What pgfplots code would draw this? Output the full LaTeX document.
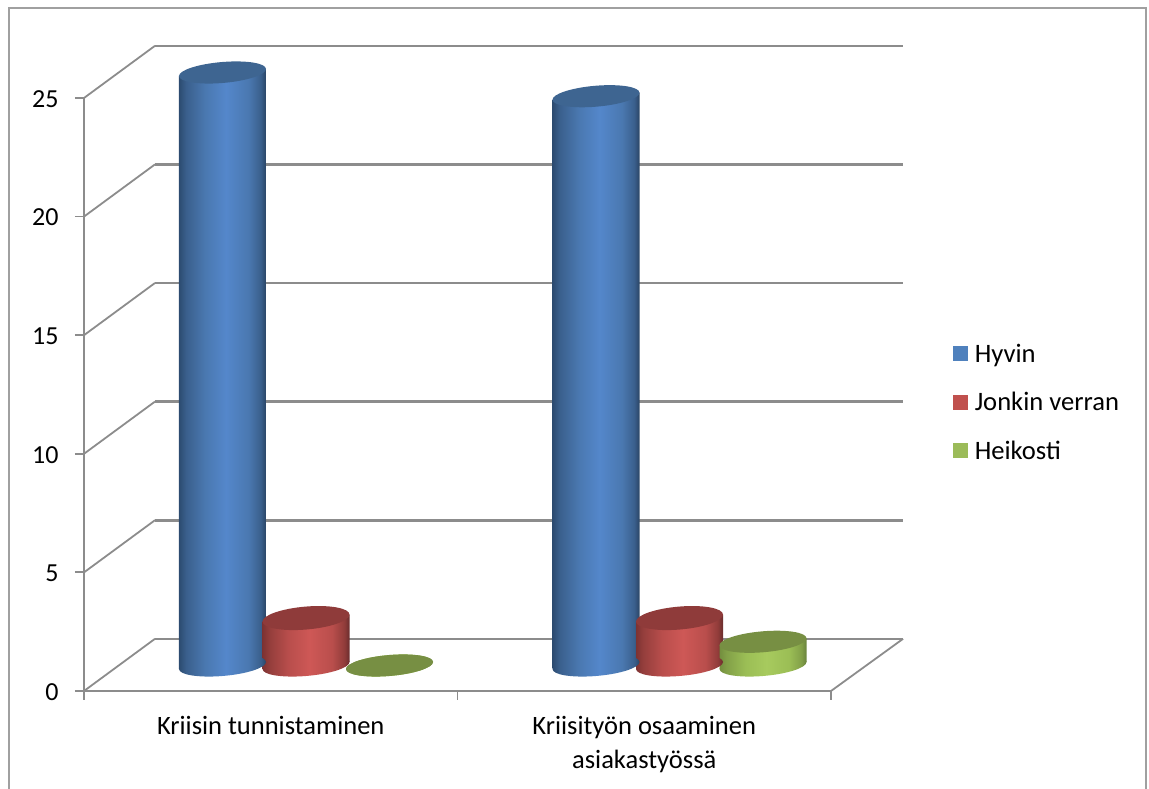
\documentclass[border=0pt]{standalone}
\usepackage{fontspec}
\usepackage{pgfplots}
\usepackage{pgfplotstable}
\pgfplotsset{compat=1.18}
\setmainfont{Carlito}

\definecolor{axisgray}{HTML}{8C8C8C}
\definecolor{framegray}{HTML}{A0A0A0}
\definecolor{hyvin}{HTML}{4F81BD}
\definecolor{jonkin}{HTML}{C0504D}
\definecolor{heikosti}{HTML}{9BBB59}
\definecolor{hyvintop}{HTML}{3E6591}
\definecolor{jonkintop}{HTML}{8F3B3A}
\definecolor{heikostitop}{HTML}{778F43}

% side shading of the cylinders, the bar width runs over 25bp..75bp
\pgfdeclarehorizontalshading{hyvinside}{100bp}{
  color(0bp)=(rgb,255:red,44;green,75;blue,112);
  color(25bp)=(rgb,255:red,44;green,75;blue,112);
  color(29bp)=(rgb,255:red,58;green,95;blue,140);
  color(40bp)=(rgb,255:red,74;green,120;blue,176);
  color(52bp)=(rgb,255:red,84;green,135;blue,203);
  color(65bp)=(rgb,255:red,74;green,120;blue,176);
  color(72bp)=(rgb,255:red,58;green,95;blue,140);
  color(75bp)=(rgb,255:red,42;green,69;blue,101);
  color(100bp)=(rgb,255:red,42;green,69;blue,101)}
\pgfdeclarehorizontalshading{jonkinside}{100bp}{
  color(0bp)=(rgb,255:red,125;green,50;blue,50);
  color(25bp)=(rgb,255:red,125;green,50;blue,50);
  color(29bp)=(rgb,255:red,148;green,62;blue,60);
  color(40bp)=(rgb,255:red,185;green,78;blue,76);
  color(52bp)=(rgb,255:red,206;green,88;blue,86);
  color(65bp)=(rgb,255:red,185;green,78;blue,76);
  color(72bp)=(rgb,255:red,145;green,60;blue,58);
  color(75bp)=(rgb,255:red,105;green,45;blue,45);
  color(100bp)=(rgb,255:red,105;green,45;blue,45)}
\pgfdeclarehorizontalshading{heikostiside}{100bp}{
  color(0bp)=(rgb,255:red,115;green,142;blue,62);
  color(25bp)=(rgb,255:red,115;green,142;blue,62);
  color(29bp)=(rgb,255:red,130;green,160;blue,72);
  color(40bp)=(rgb,255:red,155;green,190;blue,85);
  color(52bp)=(rgb,255:red,167;green,202;blue,94);
  color(65bp)=(rgb,255:red,155;green,190;blue,85);
  color(72bp)=(rgb,255:red,130;green,160;blue,72);
  color(75bp)=(rgb,255:red,105;green,130;blue,60);
  color(100bp)=(rgb,255:red,105;green,130;blue,60)}

% slanted ellipses for the cylinder ends
\pgfdeclareplotmark{captop}{%
  \pgfpathellipse{\pgfpointorigin}{\pgfpoint{43.5pt}{3.5pt}}{\pgfpoint{0pt}{10.5pt}}%
  \pgfusepathqfill}
\pgfdeclareplotmark{captopbig}{%
  \pgfpathellipse{\pgfpointorigin}{\pgfpoint{43.5pt}{3.5pt}}{\pgfpoint{0pt}{11.5pt}}%
  \pgfusepathqfill}
\pgfdeclareplotmark{hyvinbase}{%
  \pgfpathellipse{\pgfpointorigin}{\pgfpoint{43.5pt}{3.5pt}}{\pgfpoint{0pt}{10.5pt}}%
  \pgfshadepath{hyvinside}{0}\pgfusepath{discard}}
\pgfdeclareplotmark{jonkinbase}{%
  \pgfpathellipse{\pgfpointorigin}{\pgfpoint{43.5pt}{3.5pt}}{\pgfpoint{0pt}{10.5pt}}%
  \pgfshadepath{jonkinside}{0}\pgfusepath{discard}}
\pgfdeclareplotmark{heikostibase}{%
  \pgfpathellipse{\pgfpointorigin}{\pgfpoint{43.5pt}{3.5pt}}{\pgfpoint{0pt}{10.5pt}}%
  \pgfshadepath{heikostiside}{0}\pgfusepath{discard}}

% one table per category, a shaded bar has to be its own path
\pgfplotstableread{
x   Hyvin Jonkin Heikosti zero
0.5 25    2      0        0
}\tunnistaminen
\pgfplotstableread{
x   Hyvin Jonkin Heikosti zero
1.5 24    2      1        0
}\osaaminen

\pgfplotsset{
  depth/.style={xshift=35.25pt, yshift=25.5pt, forget plot},
  % bar slanted like the ellipses, #1 = bar centre on the canvas
  cylbar/.style={ybar, bar width=87pt, draw=none, forget plot,
    xshift=35.25pt, yshift={(25.5-0.0805*(#1))*1pt}, yslant=0.0805},
  cylend/.style={only marks, depth},
  back/.style={axisgray, line width=2.6pt, forget plot},
  diag/.style={axisgray, line width=1.8pt, forget plot},
}

% #1 table, #2 category position
\newcommand\cylinders[2]{%
  % Hyvin
  \addplot[cylend, xshift=-83.5pt, mark=hyvinbase, mark options={draw=none}] table[x=x, y=zero] {#1};
  \addplot[cylbar={373.5*#2-83.5}, bar shift=-83.5pt, shading=hyvinside] table[x=x, y=Hyvin] {#1};
  \addplot[cylend, xshift=-83.5pt, mark=captop, mark options={fill=hyvintop, draw=none}] table[x=x, y=Hyvin] {#1};
  % Jonkin verran
  \addplot[cylend, mark=jonkinbase, mark options={draw=none}] table[x=x, y=zero] {#1};
  \addplot[cylbar={373.5*#2}, bar shift=0pt, shading=jonkinside] table[x=x, y=Jonkin] {#1};
  \addplot[cylend, mark=captopbig, mark options={fill=jonkintop, draw=none}] table[x=x, y=Jonkin] {#1};
  % Heikosti
  \addplot[cylend, xshift=83.5pt, mark=heikostibase, mark options={draw=none}] table[x=x, y=zero] {#1};
  \addplot[cylbar={373.5*#2+83.5}, bar shift=83.5pt, shading=heikostiside] table[x=x, y=Heikosti] {#1};
  \addplot[cylend, xshift=83.5pt, mark=captop, mark options={fill=heikostitop, draw=none}] table[x=x, y=Heikosti] {#1};
}

\begin{document}
\begin{tikzpicture}[x=1pt, y=1pt]
  % page and chart frame, axis corner sits at pixel (84,691)
  \path[use as bounding box] (-84,-98) rectangle (1065,691);
  \draw[framegray, line width=2.4pt] (-75,-98) -- (-75,683) -- (1062,683) -- (1062,-98);
  \begin{axis}[
    at={(0pt,0pt)}, anchor=origin,
    scale only axis, width=747pt, height=593pt,
    xmin=0, xmax=2, ymin=0, ymax=25,
    clip=false,
    unbounded coords=jump,
    axis x line=bottom, axis y line=left,
    axis line style={axisgray, line width=2.4pt, -},
    tick style={axisgray, line width=1.8pt},
    tick align=outside, major tick length=9pt,
    ytick={0,5,10,15,20,25},
    xtick={0,1,2}, xticklabels={,,},
    extra x ticks={0.5,1.5},
    extra x tick labels={Kriisin tunnistaminen, Kriisityön osaaminen\\asiakastyössä},
    extra x tick style={major tick length=0pt,
      xticklabel style={align=center, font=\fontsize{26.5}{34}\selectfont, yshift=-21.5pt}},
    yticklabel style={font=\fontsize{26}{30}\selectfont, xshift=-13pt, yshift=-1pt},
    /pgf/number format/assume math mode=true,
    legend style={draw=none, fill=none, at={(1.163,0.585)}, anchor=north west,
      inner sep=0pt, outer sep=0pt, row sep=28.5pt,
      font=\fontsize{26.6}{30}\selectfont,
      nodes={inner sep=0pt, inner xsep=0pt},
      /tikz/column 1/.style={column sep=7pt}},
    legend cell align=left,
    legend image code/.code={\fill[draw=none, #1] (0pt,-7.5pt) rectangle (15pt,7.5pt);},
  ]
    % wall and floor lines
    \addplot[diag] coordinates {(0,0) (0.19,2.2) (nan,nan) (0,5) (0.19,7.2) (nan,nan)
      (0,10) (0.19,12.2) (nan,nan) (0,15) (0.19,17.2) (nan,nan)
      (0,20) (0.19,22.2) (nan,nan) (0,25) (0.19,27.2) (nan,nan)
      (2,0) (2.193,2.2)};
    \addplot[back] coordinates {(0.19,2.2) (2.193,2.2) (nan,nan) (0.19,7.2) (2.193,7.2) (nan,nan)
      (0.19,12.2) (2.193,12.2) (nan,nan) (0.19,17.2) (2.193,17.2) (nan,nan)
      (0.19,22.2) (2.193,22.2) (nan,nan) (0.19,27.2) (2.193,27.2)};

    \cylinders{\tunnistaminen}{0.5}
    \cylinders{\osaaminen}{1.5}

    \addlegendimage{fill=hyvin}
    \addlegendentry{Hyvin}
    \addlegendimage{fill=jonkin}
    \addlegendentry{Jonkin verran}
    \addlegendimage{fill=heikosti}
    \addlegendentry{Heikosti}
  \end{axis}
\end{tikzpicture}
\end{document}
